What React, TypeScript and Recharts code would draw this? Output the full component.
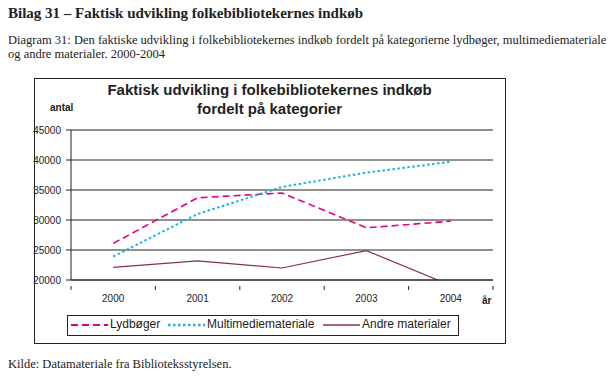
import React from "react";
import { CartesianGrid, Line, LineChart, XAxis, YAxis } from "recharts";

const years = ["2000", "2001", "2002", "2003", "2004"];
const lydboger = [26100, 33700, 34500, 28700, 29800];
const multimedie = [23900, 31000, 35500, 37900, 39700];
const andre = [22100, 23200, 22000, 24900, 19100];
const yTicks = [20000, 25000, 30000, 35000, 40000, 45000];

const series = [
  { key: "lyd", name: "Lydbøger", color: "#e5007e", dash: "7 4", width: 1.6 },
  { key: "multi", name: "Multimediemateriale", color: "#1fb0e6", dash: "2.5 2.5", width: 2 },
  { key: "andre", name: "Andre materialer", color: "#8a2c5a", dash: undefined, width: 1.2 },
];

const data = years.map((year, i) => ({
  year,
  lyd: lydboger[i],
  multi: multimedie[i],
  andre: andre[i],
}));

const sans = "'Liberation Sans', Arial, sans-serif";
const serif = "'Liberation Serif', 'Times New Roman', serif";

const legendPos = [
  { swatch: 71, text: 110 },
  { swatch: 168, text: 207 },
  { swatch: 323, text: 362 },
];

// category label in the middle of the band, tick marks on the band edges
function YearTick(props: any) {
  const { x, y, payload, index } = props;
  const half = payload.offset ?? 0;
  return (
    <g>
      <line x1={x - half} y1={y - 9} x2={x - half} y2={y - 5} stroke="#222" />
      {index === years.length - 1 && (
        <line x1={x + half} y1={y - 9} x2={x + half} y2={y - 5} stroke="#222" />
      )}
      <text x={x} y={y} dy="0.71em" textAnchor="middle" fontSize={10} fontFamily={sans} fill="#222">
        {payload.value}
      </text>
    </g>
  );
}

export default function App() {
  return (
    <div style={{ position: "absolute", left: 0, top: 0, width: 616, height: 383, background: "#fff", overflow: "hidden" }}>
      <div style={{ position: "absolute", left: 8, top: 5, fontFamily: serif, fontWeight: "bold", fontSize: 15, whiteSpace: "nowrap", color: "#222" }}>
        Bilag 31 – Faktisk udvikling folkebibliotekernes indkøb
      </div>
      <div style={{ position: "absolute", left: 8, top: 33, width: 608, fontFamily: serif, fontSize: 12.5, lineHeight: "14px", color: "#222" }}>
        Diagram 31: Den faktiske udvikling i folkebibliotekernes indkøb fordelt på kategorierne lydbøger, multimediemateriale og andre materialer. 2000-2004
      </div>
      <div style={{ position: "absolute", left: 8, top: 357, fontFamily: serif, fontSize: 12.5, color: "#222" }}>
        Kilde: Datamateriale fra Biblioteksstyrelsen.
      </div>

      <div style={{ position: "absolute", left: 34, top: 78, width: 470, height: 264, border: "1px solid #222" }} />

      <div style={{ position: "absolute", left: 34, top: 80, width: 471, textAlign: "center", fontFamily: sans, fontWeight: "bold", fontSize: 15, lineHeight: "19px", color: "#222" }}>
        Faktisk udvikling i folkebibliotekernes indkøb
        <br />
        fordelt på kategorier
      </div>
      <div style={{ position: "absolute", left: 50, top: 102, fontFamily: sans, fontWeight: "bold", fontSize: 10, color: "#222" }}>antal</div>
      <div style={{ position: "absolute", left: 482, top: 295, fontFamily: sans, fontWeight: "bold", fontSize: 10, color: "#222" }}>år</div>

      <div style={{ position: "absolute", left: 0, top: 0 }}>
        <LineChart width={616} height={383} data={data} margin={{ top: 130, right: 123, bottom: 73, left: 0 }}>
          <CartesianGrid vertical={false} stroke="#222" />
          <XAxis
            dataKey="year"
            scale="band"
            height={30}
            tickLine={false}
            tickMargin={9}
            interval={0}
            axisLine={{ stroke: "#222" }}
            tick={<YearTick />}
          />
          <XAxis
            xAxisId="t"
            orientation="top"
            type="number"
            domain={[0, 1]}
            allowDataOverflow
            height={0}
            tick={false}
            tickLine={false}
            axisLine={{ stroke: "#888" }}
          />
          <YAxis
            width={71}
            domain={[20000, 45000]}
            ticks={yTicks}
            allowDataOverflow
            interval={0}
            tickSize={5}
            tickMargin={5}
            axisLine={{ stroke: "#222" }}
            tickLine={{ stroke: "#222" }}
            tick={{ fontSize: 10, fontFamily: sans, fill: "#222" }}
          />
          <YAxis
            yAxisId="r"
            orientation="right"
            type="number"
            domain={[0, 1]}
            allowDataOverflow
            width={0}
            tick={false}
            tickLine={false}
            axisLine={{ stroke: "#888" }}
          />
          {series.map((s) => (
            <Line
              key={s.key}
              dataKey={s.key}
              name={s.name}
              stroke={s.color}
              strokeWidth={s.width}
              strokeDasharray={s.dash}
              dot={false}
              activeDot={false}
              type="linear"
              isAnimationActive={false}
            />
          ))}
        </LineChart>
      </div>

      <div style={{ position: "absolute", left: 67, top: 315, width: 390, height: 19, border: "1px solid #222" }} />
      {series.map((s, i) => (
        <React.Fragment key={s.key}>
          <svg style={{ position: "absolute", left: legendPos[i].swatch, top: 319 }} width={37} height={12}>
            <line x1={0} y1={6} x2={37} y2={6} stroke={s.color} strokeWidth={s.width + 0.4} strokeDasharray={s.dash} />
          </svg>
          <div style={{ position: "absolute", left: legendPos[i].text, top: 317, fontFamily: sans, fontSize: 12, color: "#222", whiteSpace: "nowrap" }}>
            {s.name}
          </div>
        </React.Fragment>
      ))}
    </div>
  );
}
